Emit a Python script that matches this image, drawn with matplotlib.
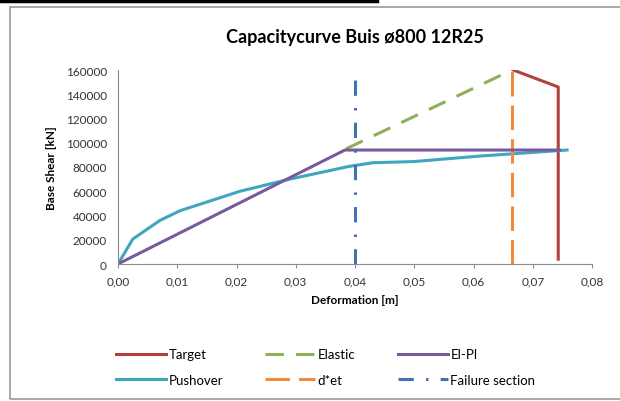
import matplotlib
matplotlib.use('Agg')
import matplotlib.pyplot as plt
from matplotlib.patches import Rectangle
from matplotlib.lines import Line2D
from matplotlib.ticker import FuncFormatter

plt.rcParams['font.family'] = ['Lato', 'DejaVu Sans']

# data
target_x = [0.0667, 0.0743, 0.0743]
target_y = [160000, 146000, 4000]
elastic_x = [0.0385, 0.0665]
elastic_y = [95000, 160000]
elpl_x = [0.0, 0.0383, 0.0745]
elpl_y = [0, 94000, 94000]
push_x = [0.0, 0.0025, 0.0071, 0.0105, 0.0206, 0.029, 0.039, 0.043, 0.050, 0.061, 0.0758]
push_y = [0, 20600, 36000, 44000, 60000, 70000, 80500, 83500, 84500, 89000, 94000]
det_x = 0.0665
fail_x = 0.0400
y_top = 160000

fig = plt.figure(figsize=(6.2, 4.02), dpi=100)
# chart frame like the spreadsheet export
fig.patches.append(Rectangle((10/620, 2/402), 612/620, 392/402, transform=fig.transFigure,
                             fill=False, edgecolor='#9a9a9a', lw=1.2))
fig.add_artist(Line2D([0, 377/620], [1 - 1.5/402, 1 - 1.5/402], transform=fig.transFigure,
                      color='black', lw=2.5))

ax = fig.add_axes([118/620, 1 - 265/402, (592 - 118)/620, (265 - 71)/402])

ax.plot(target_x, target_y, color='#B0413E', lw=2.2, label='Target')
ax.plot(push_x, push_y, color='#3FA6BE', lw=2.2, label='Pushover')
ax.plot(elastic_x, elastic_y, color='#8DB255', lw=2.2, dashes=(6, 4), label='Elastic')
ax.plot([det_x, det_x], [0, y_top], color='#F08A3C', lw=2.2, dashes=(8, 3), label='d*et')
ax.plot(elpl_x, elpl_y, color='#7A5A9E', lw=2.2, label='El-Pl')
ax.plot([fail_x, fail_x], [0, y_top], color='#3E74B4', lw=2.2,
        dashes=(5, 4, 0.8, 4), label='Failure section')

ax.set_xlim(0, 0.08)
ax.set_ylim(0, 160000)
ax.set_xticks([i / 100 for i in range(9)])
ax.set_yticks(range(0, 160001, 20000))
ax.xaxis.set_major_formatter(FuncFormatter(lambda v, p: f'{v:.2f}'.replace('.', ',')))
ax.yaxis.set_major_formatter(FuncFormatter(lambda v, p: f'{int(v)}'))
for s in ['top', 'right']:
    ax.spines[s].set_visible(False)
for s in ['left', 'bottom']:
    ax.spines[s].set_color('#8c8c8c')
ax.tick_params(axis='both', labelsize=8.5, colors='#8c8c8c', labelcolor='#333333', length=3)
ax.tick_params(axis='y', length=0, pad=8)
ax.tick_params(axis='x', pad=5)

ax.set_title('Capacitycurve Buis ø800 12R25', fontsize=13, fontweight='bold', pad=20)
ax.set_xlabel('Deformation [m]', fontsize=8.5, fontweight='bold', labelpad=6)
ax.set_ylabel('Base Shear [kN]', fontsize=8.5, fontweight='bold', labelpad=6)

fig.legend(loc='center', bbox_to_anchor=(0.525, 1 - 368/402), ncol=3, frameon=False,
           fontsize=9.5, handlelength=3.8, columnspacing=3.2, handletextpad=0.2,
           labelspacing=1.0)

fig.savefig('out.png', dpi=100)
